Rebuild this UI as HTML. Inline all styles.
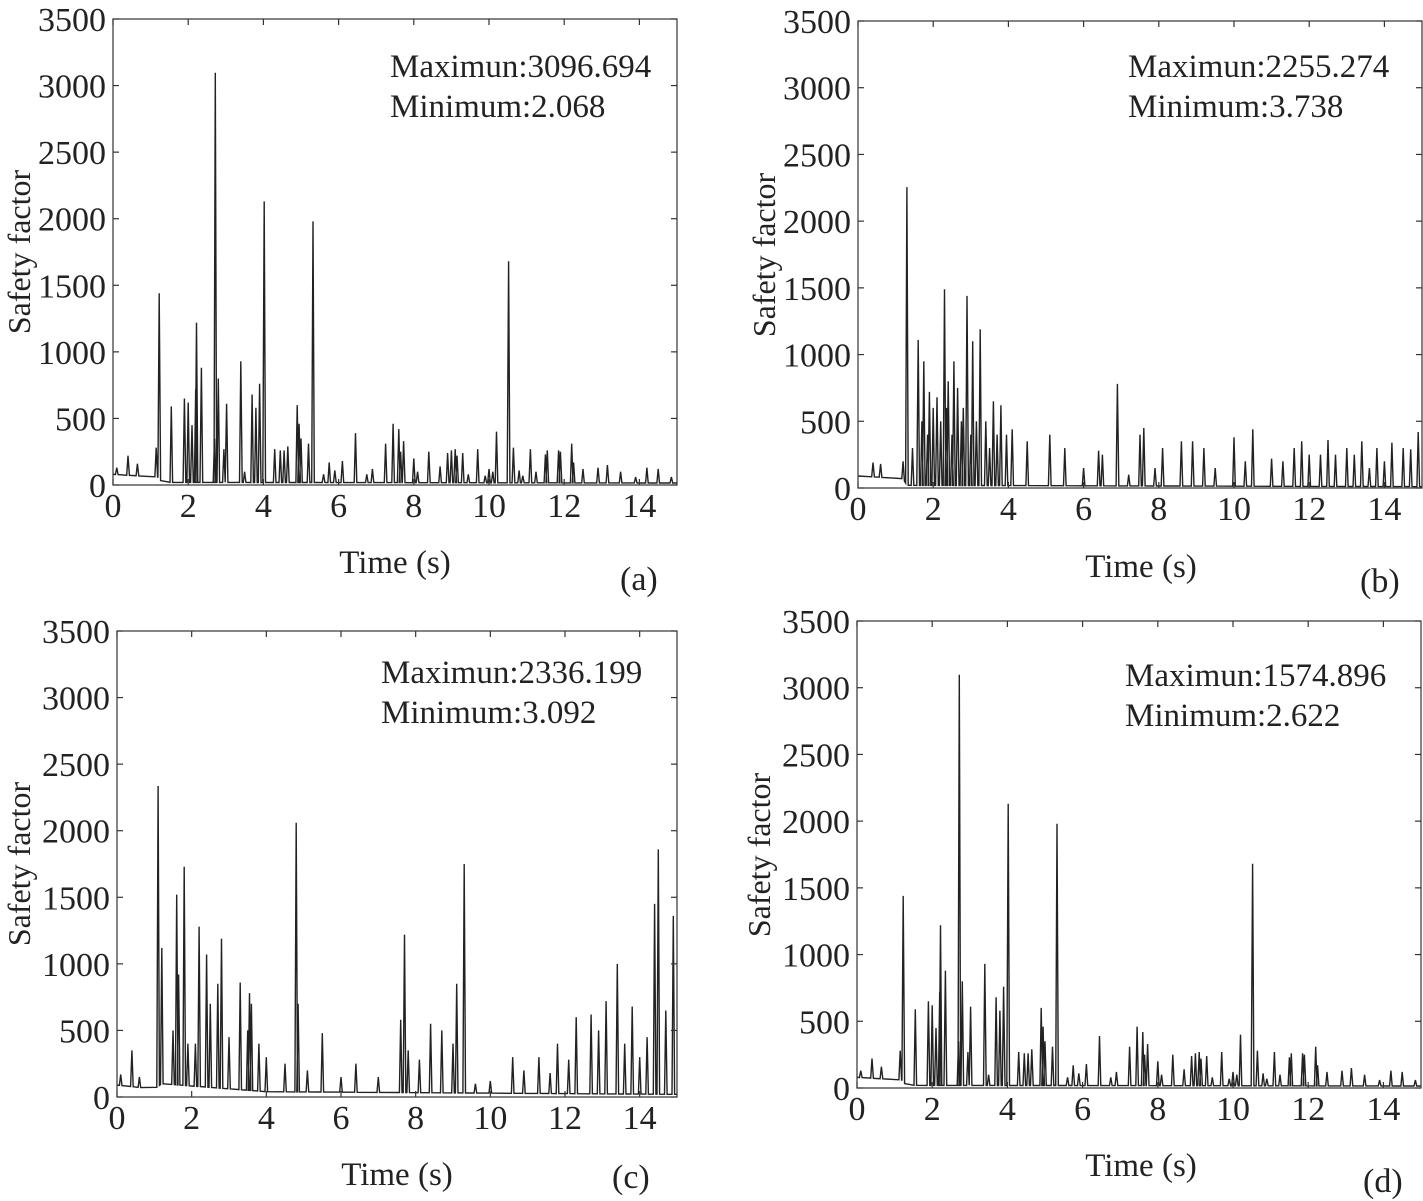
<!DOCTYPE html>
<html><head><meta charset="utf-8"><style>
body{margin:0;background:#fff}
svg{display:block}
text{font-family:"Liberation Serif",serif;fill:#222}
</style></head><body>
<svg id="fig" width="1423" height="1201" viewBox="0 0 1423 1201" xmlns="http://www.w3.org/2000/svg"></svg>
<script>
// ---- data (peaks of the series) ----
const yTicks = [0,500,1000,1500,2000,2500,3000,3500];
const xTicks = [0,2,4,6,8,10,12,14];

const aTimes = [0.1,0.4,0.65,1.15,1.23,1.55,1.9,2.0,2.1,2.2,2.22,2.35,2.7,2.72,2.8,2.95,3.02,3.4,3.5,3.7,3.8,3.9,4.02,4.3,4.45,4.55,4.65,4.9,4.95,5.0,5.2,5.32,5.6,5.75,5.9,6.1,6.45,6.75,6.9,7.25,7.45,7.6,7.65,7.73,8.0,8.1,8.4,8.7,8.9,9.0,9.1,9.15,9.3,9.45,9.7,9.9,10.0,10.1,10.2,10.52,10.65,10.8,10.9,11.1,11.25,11.5,11.55,11.85,11.9,12.2,12.25,12.5,12.9,13.15,13.5,13.9,14.2,14.5,14.85];
const aValues = [130,220,160,280,1440,590,650,620,450,720,1220,880,350,3097,800,270,610,930,100,680,580,760,2130,270,260,260,290,600,460,350,310,1980,80,170,110,180,390,80,120,310,460,420,250,330,200,100,250,140,240,260,270,220,240,80,270,70,120,100,400,1680,280,110,70,270,100,230,260,260,250,310,170,120,130,150,100,60,130,120,60];
const aBaseT = [0,1.2,1.3,15];
const aBaseV = [80,60,20,15];

const bTimes = [0.4,0.6,1.2,1.3,1.45,1.6,1.7,1.75,1.85,1.9,2.0,2.1,2.2,2.3,2.35,2.4,2.5,2.55,2.65,2.75,2.8,2.9,3.0,3.05,3.15,3.25,3.4,3.5,3.6,3.7,3.8,3.95,4.1,4.5,5.1,5.5,6.0,6.4,6.5,6.9,7.2,7.5,7.6,7.9,8.1,8.6,8.9,9.2,9.5,10.0,10.3,10.5,11.0,11.3,11.6,11.8,12.0,12.3,12.5,12.7,13.0,13.2,13.4,13.6,13.8,14.0,14.2,14.5,14.7,14.9];
const bValues = [190,180,200,2255,300,1110,500,950,400,720,600,680,500,1490,600,800,400,950,750,500,600,1440,400,1100,500,1190,500,300,650,400,620,400,440,350,400,300,150,280,250,780,100,400,450,150,300,350,350,300,150,380,200,440,220,200,300,350,250,250,360,250,300,250,350,150,300,200,340,300,290,420];
const bBaseT = [0,1.2,1.3,15];
const bBaseV = [90,70,20,10];

const cTimes = [0.1,0.4,0.6,1.1,1.2,1.5,1.6,1.65,1.8,1.9,2.1,2.2,2.4,2.5,2.7,2.8,3.0,3.3,3.5,3.55,3.6,3.8,4.0,4.5,4.8,4.85,5.1,5.5,6.0,6.4,7.0,7.6,7.7,7.8,8.1,8.4,8.7,9.0,9.1,9.3,9.6,10.0,10.6,10.9,11.3,11.6,11.8,12.1,12.3,12.7,12.9,13.1,13.4,13.6,13.8,14.0,14.2,14.4,14.5,14.7,14.9];
const cValues = [170,350,150,2336,1120,500,1520,920,1730,400,400,1280,1070,700,850,1190,450,860,500,780,700,400,300,250,2060,700,200,480,150,250,150,580,1220,350,280,550,500,400,850,1750,100,120,300,200,300,180,400,280,600,620,500,720,1000,400,680,300,450,1450,1860,650,1360];
const cBaseT = [0,1.0,1.2,4,15];
const cBaseV = [90,60,100,40,20];

// ---- drawing ----
const NS = "http://www.w3.org/2000/svg";
const svg = document.getElementById('fig');
function mk(tag, attrs, parent){const e=document.createElementNS(NS,tag);for(const k in attrs)e.setAttribute(k,attrs[k]);(parent||svg).appendChild(e);return e;}
function interp(t,T,V){for(let i=0;i<T.length-1;i++){if(t>=T[i]&&t<=T[i+1]){const f=(t-T[i])/(T[i+1]-T[i]);return V[i]+f*(V[i+1]-V[i]);}}return V[V.length-1];}

function panel(id,f,times,values,baseT,baseV,maxTxt,minTxt,ann,tl,letter,ylab){
  const g=mk('g',{});
  
  
  const xs=t=>f.x0+(t/15)*(f.x1-f.x0);
  const ys=v=>f.y0-(v/3500)*(f.y0-f.y1);
  const idx=times.map((t,i)=>i).sort((a,b)=>times[a]-times[b]);
  let d='M'+xs(0)+','+ys(interp(0,baseT,baseV));
  const w=0.035;
  idx.forEach(i=>{const t=times[i];const b1=interp(Math.max(0,t-w),baseT,baseV),b2=interp(Math.min(15,t+w),baseT,baseV);
    d+=' L'+xs(Math.max(0,t-w)).toFixed(1)+','+ys(b1).toFixed(1)+' L'+xs(t).toFixed(1)+','+ys(values[i]).toFixed(1)+' L'+xs(Math.min(15,t+w)).toFixed(1)+','+ys(b2).toFixed(1);});
  d+=' L'+xs(15)+','+ys(interp(15,baseT,baseV));
  const p=mk('path',{d:d,fill:'none',stroke:'#222','stroke-width':1.4,'stroke-linejoin':'miter'},g);
  
  
  const r=mk('rect',{x:f.x0,y:f.y1,width:f.x1-f.x0,height:f.y0-f.y1,fill:'none',stroke:'#333','stroke-width':1.2},g);
  
  
  yTicks.forEach(v=>{
    mk('line',{x1:f.x0,x2:f.x0+6,y1:ys(v),y2:ys(v),stroke:'#333','stroke-width':1.2},g);
    mk('line',{x1:f.x1,x2:f.x1-6,y1:ys(v),y2:ys(v),stroke:'#333','stroke-width':1.2},g);
    const t=mk('text',{x:f.x0-7,y:ys(v)+12,'text-anchor':'end','font-size':34},g);
    t.textContent=v;
    
    
  });
  xTicks.forEach(v=>{
    mk('line',{x1:xs(v),x2:xs(v),y1:f.y0,y2:f.y0-6,stroke:'#333','stroke-width':1.2},g);
    mk('line',{x1:xs(v),x2:xs(v),y1:f.y1,y2:f.y1+6,stroke:'#333','stroke-width':1.2},g);
    const t=mk('text',{x:xs(v),y:f.y0+32,'text-anchor':'middle','font-size':34},g);
    t.textContent=v;
    
    
  });
  const m1=mk('text',{x:ann[0],y:ann[1],'font-size':33},g);m1.textContent=maxTxt;
  
  
  const m2=mk('text',{x:ann[0],y:ann[1]+40,'font-size':33},g);m2.textContent=minTxt;
  
  
  const xt=mk('text',{x:tl[0],y:tl[1],'text-anchor':'middle','font-size':33},g);xt.textContent='Time (s)';
  
  
  const lt=mk('text',{x:letter[0],y:letter[1],'font-size':34},g);lt.textContent='('+id+')';
  
  
  const yt=mk('text',{x:0,y:0,'text-anchor':'middle','font-size':32,transform:'translate('+ylab[0]+','+ylab[1]+') rotate(-90)'},g);yt.textContent='Safety factor';
  
  
}

panel('a',{x0:113,x1:677,y0:485,y1:19},aTimes,aValues,aBaseT,aBaseV,'Maximun:3096.694','Minimum:2.068',[390,77],[395,573],[620,590],[30,252]);
panel('b',{x0:858,x1:1422,y0:488,y1:21},bTimes,bValues,bBaseT,bBaseV,'Maximun:2255.274','Minimum:3.738',[1128,77],[1141,577],[1360,592],[775,255]);
panel('c',{x0:117,x1:677,y0:1097,y1:631},cTimes,cValues,cBaseT,cBaseV,'Maximun:2336.199','Minimum:3.092',[381,683],[397,1185],[612,1188],[30,864]);
panel('d',{x0:857,x1:1421,y0:1088,y1:621},aTimes,aValues,aBaseT,aBaseV,'Maximun:1574.896','Minimum:2.622',[1125,686],[1141,1176],[1363,1192],[770,855]);
</script>
</body></html>
